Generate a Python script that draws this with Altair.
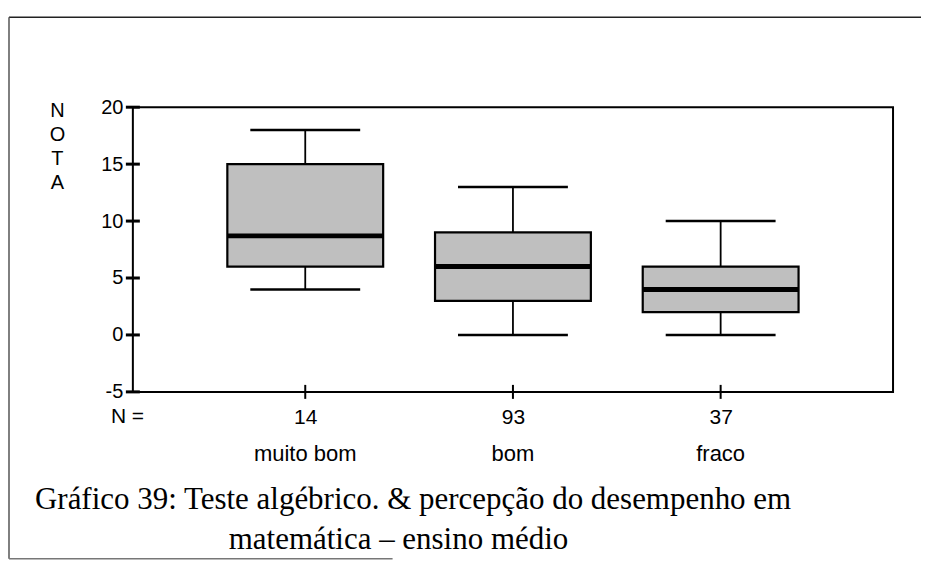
import altair as alt
import pandas as pd

categories = ["muito bom", "bom", "fraco"]
n_values = ["14", "93", "37"]
whisker_low = [4.0, 0.0, 0.0]
q1 = [6.0, 3.0, 2.0]
median = [8.7, 6.0, 4.0]
q3 = [15.0, 9.0, 6.0]
whisker_high = [18.0, 13.0, 10.0]
y_ticks = [-5, 0, 5, 10, 15, 20]

df = pd.DataFrame({
    "cat": categories, "n": n_values, "lo": whisker_low, "q1": q1,
    "med": median, "q3": q3, "hi": whisker_high,
})

W, H = 761, 285
label_expr = "datum.label == 'muito bom' ? '14' : datum.label == 'bom' ? '93' : '37'"

x = alt.X("cat:N", sort=categories,
          scale=alt.Scale(type="point", padding=0.83),
          axis=alt.Axis(title=None, labelAngle=0, domain=False, ticks=False,
                        labelPadding=15, labelFont="Liberation Sans", labelFontSize=21,
                        labelColor="black", labelExpr=label_expr))
yscale = alt.Scale(domain=[-5, 20], nice=False, zero=False)
y_axis = alt.Axis(values=y_ticks, grid=False, domain=False, ticks=False,
                  labelPadding=10, labelFont="Liberation Sans",
                  labelFontSize=20, labelColor="black",
                  labelExpr="'' + datum.value",
                  title=["N", "O", "T", "A"], titleAngle=0, titleAlign="center",
                  titleBaseline="top", titleX=-76, titleY=-7, titleLineHeight=24,
                  titleFont="Liberation Sans", titleFontSize=20,
                  titleFontWeight="normal", titleColor="black")

base = alt.Chart(df)

whisk_low = base.mark_rule(color="black", strokeWidth=1.8).encode(
    x=x, y=alt.Y("lo:Q", scale=yscale, axis=y_axis), y2="q1:Q")
whisk_high = base.mark_rule(color="black", strokeWidth=1.8).encode(
    x=x, y=alt.Y("q3:Q", scale=yscale, axis=y_axis), y2="hi:Q")
box = base.mark_bar(size=156, fill="#bfbfbf", stroke="black", strokeWidth=2.2).encode(
    x=x, y=alt.Y("q1:Q", scale=yscale, axis=y_axis), y2="q3:Q")
med = base.mark_tick(size=156, thickness=5, color="black", orient="horizontal", opacity=1).encode(
    x=x, y=alt.Y("med:Q", scale=yscale, axis=y_axis))
cap_lo = base.mark_tick(size=110, thickness=2.5, color="black", orient="horizontal", opacity=1).encode(
    x=x, y=alt.Y("lo:Q", scale=yscale, axis=y_axis))
cap_hi = base.mark_tick(size=110, thickness=2.5, color="black", orient="horizontal", opacity=1).encode(
    x=x, y=alt.Y("hi:Q", scale=yscale, axis=y_axis))

# crossing tick marks on both axes
y_tick_marks = alt.Chart(pd.DataFrame({"v": y_ticks})).mark_tick(
    size=14, thickness=3, color="black", orient="horizontal", opacity=1).encode(
    x=alt.value(0), y=alt.Y("v:Q", scale=yscale, axis=y_axis))
x_tick_marks = base.mark_tick(size=14, thickness=2, color="black",
                              orient="vertical", opacity=1).encode(
    x=x, y=alt.value(H))

cat_text = base.mark_text(font="Liberation Sans", fontSize=22, baseline="alphabetic",
                          color="black").encode(
    x=x, y=alt.value(H + 69), text="cat:N")

n_label = alt.Chart(pd.DataFrame({"t": ["N ="]})).mark_text(
    font="Liberation Sans", fontSize=21, baseline="alphabetic", align="left",
    color="black").encode(x=alt.value(-22), y=alt.value(H + 31), text="t:N")

caption = alt.Chart(pd.DataFrame({
    "t": ["Gráfico 39: Teste algébrico. & percepção do desempenho em",
          "matemática – ensino médio"],
    "px": [-98, 96], "py": [H + 117, H + 157],
})).mark_text(font="Liberation Serif", fontSize=31, baseline="alphabetic",
              align="left", color="black").encode(
    x=alt.X("px:Q", scale=None), y=alt.Y("py:Q", scale=None), text="t:N")

border = alt.Chart(pd.DataFrame({
    "x1": [-124, -124, -124], "x2": [789, -124, 260],
    "y1": [-90, -90, H + 167], "y2": [-90, H + 167, H + 167],
    "c": ["#222222", "#555555", "#777777"],
})).mark_rule(strokeWidth=1.5).encode(
    x=alt.X("x1:Q", scale=None), x2="x2:Q",
    y=alt.Y("y1:Q", scale=None), y2="y2:Q",
    color=alt.Color("c:N", scale=None))

chart = alt.layer(
    box, whisk_low, whisk_high, med, cap_lo, cap_hi, y_tick_marks, x_tick_marks,
    cat_text, n_label, caption, border
).properties(
    width=W, height=H, background="white",
    padding={"left": 0, "top": 8, "right": 0, "bottom": 0}
).configure_view(stroke="black", strokeWidth=2)

chart.save("out.html", embed_options={"renderer": "svg", "actions": False})
